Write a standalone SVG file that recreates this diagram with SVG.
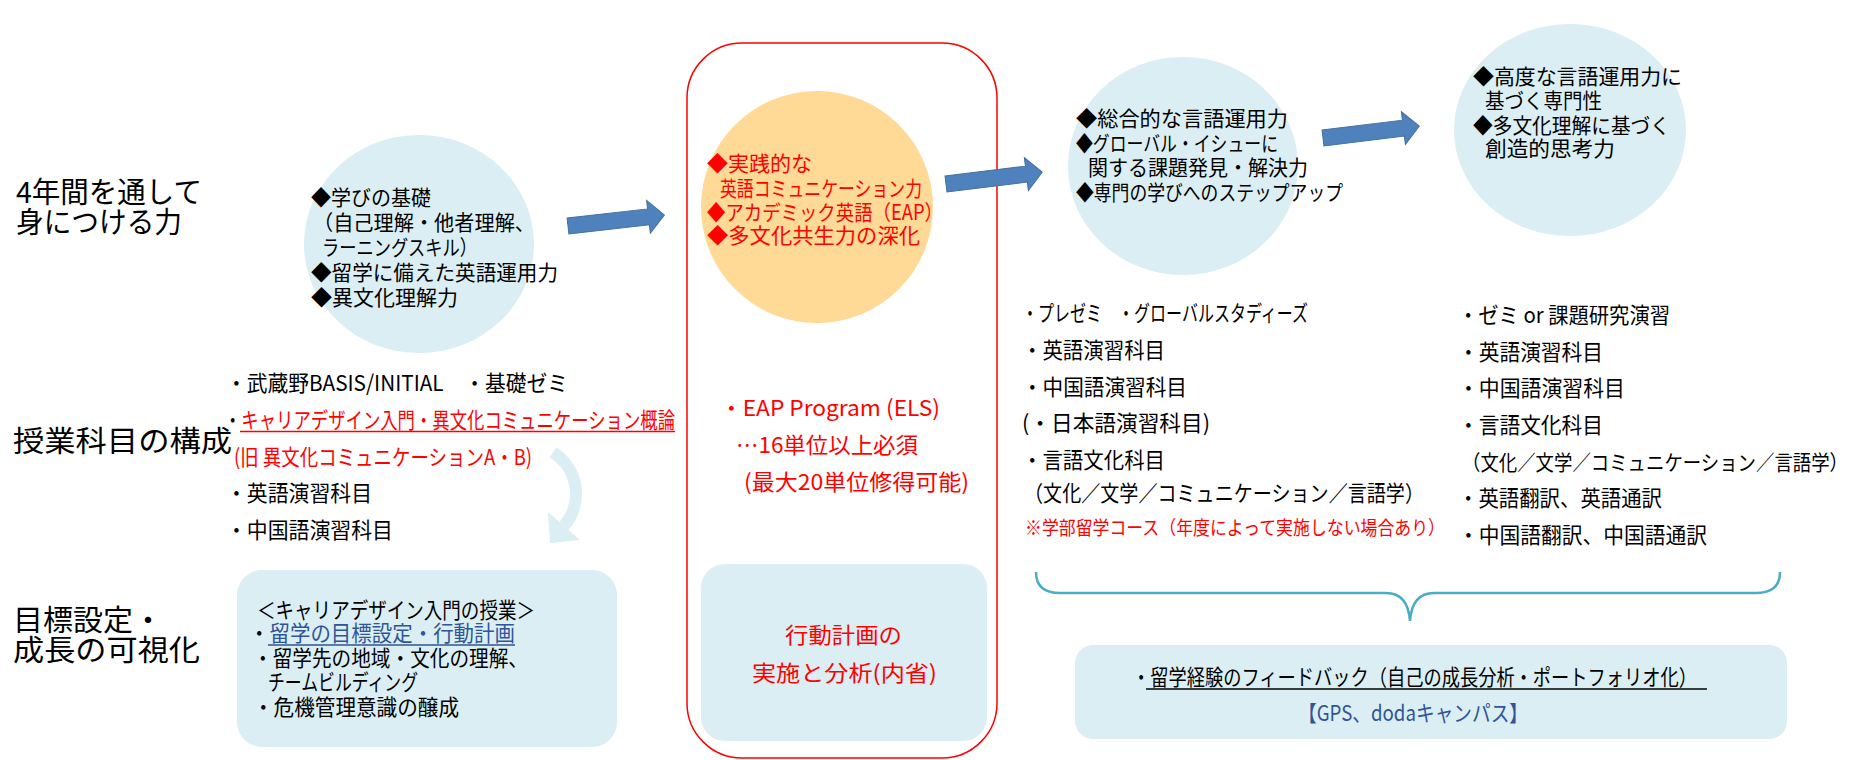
<svg xmlns="http://www.w3.org/2000/svg" width="1856" height="760" viewBox="0 0 1856 760">
<style>
text { font-family: "Noto Sans CJK JP", "Noto Sans", sans-serif; }
.k { fill:#000000; }
.r { fill:#FF0000; }
.b { fill:#2F5597; }
.lbl { font-size:29px; }
.s21 { font-size:21px; }
.s22 { font-size:22px; }
.s19 { font-size:19px; }
.lt { fill:#DAEEF3; }
.arr { fill:#4F81BD; stroke:#41719C; stroke-width:1; }
</style>
<defs>
<polygon id="bigArrow" points="0,-8 81,-8 81,-16.5 97,0 81,16.5 81,8 0,8"/>
</defs>
<rect width="1856" height="760" fill="#FFFFFF"/>

<g id="label-abilities">
<text class="k lbl" x="16" y="203" textLength="186" lengthAdjust="spacingAndGlyphs">4年間を通して</text>
<text class="k lbl" x="16" y="233" textLength="166" lengthAdjust="spacingAndGlyphs">身につける力</text>
</g>
<g id="label-courses">
<text class="k lbl" x="13" y="452" textLength="219" lengthAdjust="spacingAndGlyphs">授業科目の構成</text>
</g>
<g id="label-goals">
<text class="k lbl" x="13" y="631" textLength="150" lengthAdjust="spacingAndGlyphs">目標設定・</text>
<text class="k lbl" x="13" y="661" textLength="187" lengthAdjust="spacingAndGlyphs">成長の可視化</text>
</g>

<g id="circle-year1">
<ellipse class="lt" cx="419" cy="244" rx="115" ry="109"/>
<text class="k s21" x="311" y="205" textLength="120" lengthAdjust="spacingAndGlyphs">◆学びの基礎</text>
<text class="k s21" x="313" y="230" textLength="222" lengthAdjust="spacingAndGlyphs">（自己理解・他者理解、</text>
<text class="k s21" x="322" y="255" textLength="155" lengthAdjust="spacingAndGlyphs">ラーニングスキル）</text>
<text class="k s21" x="311" y="280" textLength="247" lengthAdjust="spacingAndGlyphs">◆留学に備えた英語運用力</text>
<text class="k s21" x="311" y="305" textLength="147" lengthAdjust="spacingAndGlyphs">◆異文化理解力</text>
</g>

<g id="circle-year2">
<circle cx="817" cy="207" r="116" fill="#FFD996"/>
<text class="r s21" x="707" y="171" textLength="105" lengthAdjust="spacingAndGlyphs">◆実践的な</text>
<text class="r s21" x="720" y="196" textLength="202" lengthAdjust="spacingAndGlyphs">英語コミュニケーション力</text>
<text class="r s21" x="707" y="220" textLength="236" lengthAdjust="spacingAndGlyphs">◆アカデミック英語（EAP）</text>
<text class="r s21" x="707" y="243" textLength="213" lengthAdjust="spacingAndGlyphs">◆多文化共生力の深化</text>
</g>

<g id="circle-year3">
<ellipse class="lt" cx="1183" cy="166" rx="115" ry="109"/>
<text class="k s21" x="1076" y="126" textLength="212" lengthAdjust="spacingAndGlyphs">◆総合的な言語運用力</text>
<text class="k s21" x="1076" y="151" textLength="202" lengthAdjust="spacingAndGlyphs">◆グローバル・イシューに</text>
<text class="k s21" x="1088" y="175" textLength="220" lengthAdjust="spacingAndGlyphs">関する課題発見・解決力</text>
<text class="k s21" x="1076" y="200" textLength="267" lengthAdjust="spacingAndGlyphs">◆専門の学びへのステップアップ</text>
</g>

<g id="circle-year4">
<ellipse class="lt" cx="1570" cy="130" rx="116" ry="106"/>
<text class="k s21" x="1473" y="84" textLength="209" lengthAdjust="spacingAndGlyphs">◆高度な言語運用力に</text>
<text class="k s21" x="1485" y="108" textLength="117" lengthAdjust="spacingAndGlyphs">基づく専門性</text>
<text class="k s21" x="1473" y="133" textLength="197" lengthAdjust="spacingAndGlyphs">◆多文化理解に基づく</text>
<text class="k s21" x="1485" y="156" textLength="130" lengthAdjust="spacingAndGlyphs">創造的思考力</text>
</g>

<g id="courses-year1">
<text class="k s22" x="226" y="391" textLength="342" lengthAdjust="spacingAndGlyphs">・武蔵野BASIS/INITIAL　・基礎ゼミ</text>
<text class="s22" x="224" y="428" textLength="451" lengthAdjust="spacingAndGlyphs"><tspan class="k">・</tspan><tspan class="r">キャリアデザイン入門・異文化コミュニケーション概論</tspan></text>
<line x1="240" y1="431.5" x2="675" y2="431.5" stroke="#FF0000" stroke-width="1.5"/>
<text class="r s22" x="234" y="465" textLength="298" lengthAdjust="spacingAndGlyphs">(旧 異文化コミュニケーションA・B)</text>
<text class="k s22" x="226" y="501" textLength="146" lengthAdjust="spacingAndGlyphs">・英語演習科目</text>
<text class="k s22" x="226" y="538" textLength="167" lengthAdjust="spacingAndGlyphs">・中国語演習科目</text>
</g>

<g id="career-box">
<rect class="lt" x="237" y="570" width="380" height="177" rx="25"/>
<text class="k s22" x="257" y="618" textLength="278" lengthAdjust="spacingAndGlyphs">＜キャリアデザイン入門の授業＞</text>
<text class="s22" x="249" y="641" textLength="266" lengthAdjust="spacingAndGlyphs"><tspan class="k">・</tspan><tspan class="b">留学の目標設定・行動計画</tspan></text>
<line x1="268" y1="645" x2="515" y2="645" stroke="#2F5597" stroke-width="1.5"/>
<text class="k s22" x="253" y="666" textLength="275" lengthAdjust="spacingAndGlyphs">・留学先の地域・文化の理解、</text>
<text class="k s22" x="268" y="690" textLength="150" lengthAdjust="spacingAndGlyphs">チームビルディング</text>
<text class="k s22" x="253" y="715" textLength="206" lengthAdjust="spacingAndGlyphs">・危機管理意識の醸成</text>
</g>

<g id="study-abroad">
<text class="r s22" x="720" y="416" textLength="220" lengthAdjust="spacingAndGlyphs">・EAP Program (ELS)</text>
<text class="r s22" x="736" y="453" textLength="182" lengthAdjust="spacingAndGlyphs">…16単位以上必須</text>
<text class="r s22" x="744" y="490" textLength="225" lengthAdjust="spacingAndGlyphs">(最大20単位修得可能)</text>
<rect class="lt" x="701" y="564" width="286" height="177" rx="24"/>
<text class="r s22" x="785" y="643" textLength="117" lengthAdjust="spacingAndGlyphs">行動計画の</text>
<text class="r s22" x="752" y="681" textLength="185" lengthAdjust="spacingAndGlyphs">実施と分析(内省)</text>
<rect x="687" y="43" width="310" height="715" rx="55" fill="none" stroke="#FF0000" stroke-width="1.5"/>
</g>

<g id="courses-year3">
<text class="k s22" x="1022" y="321" textLength="286" lengthAdjust="spacingAndGlyphs">・プレゼミ　・グローバルスタディーズ</text>
<text class="k s22" x="1022" y="358" textLength="143" lengthAdjust="spacingAndGlyphs">・英語演習科目</text>
<text class="k s22" x="1022" y="395" textLength="165" lengthAdjust="spacingAndGlyphs">・中国語演習科目</text>
<text class="k s22" x="1022" y="431" textLength="188" lengthAdjust="spacingAndGlyphs">(・日本語演習科目)</text>
<text class="k s22" x="1022" y="468" textLength="143" lengthAdjust="spacingAndGlyphs">・言語文化科目</text>
<text class="k s22" x="1024" y="501" textLength="400" lengthAdjust="spacingAndGlyphs">（文化／文学／コミュニケーション／言語学）</text>
<text class="r s19" x="1025" y="535" textLength="420" lengthAdjust="spacingAndGlyphs">※学部留学コース（年度によって実施しない場合あり）</text>
</g>

<g id="courses-year4">
<text class="k s22" x="1458" y="323" textLength="212" lengthAdjust="spacingAndGlyphs">・ゼミ or 課題研究演習</text>
<text class="k s22" x="1458" y="360" textLength="145" lengthAdjust="spacingAndGlyphs">・英語演習科目</text>
<text class="k s22" x="1458" y="396" textLength="167" lengthAdjust="spacingAndGlyphs">・中国語演習科目</text>
<text class="k s22" x="1458" y="433" textLength="145" lengthAdjust="spacingAndGlyphs">・言語文化科目</text>
<text class="k" style="font-size:21px" x="1462" y="470" textLength="386" lengthAdjust="spacingAndGlyphs">（文化／文学／コミュニケーション／言語学）</text>
<text class="k s22" x="1458" y="506" textLength="204" lengthAdjust="spacingAndGlyphs">・英語翻訳、英語通訳</text>
<text class="k s22" x="1458" y="543" textLength="249" lengthAdjust="spacingAndGlyphs">・中国語翻訳、中国語通訳</text>
</g>

<g id="feedback-box">
<rect class="lt" x="1075" y="645" width="712" height="94" rx="18"/>
<text class="k s22" x="1132" y="685" textLength="565" lengthAdjust="spacingAndGlyphs">・留学経験のフィードバック（自己の成長分析・ポートフォリオ化）</text>
<line x1="1146" y1="689" x2="1707" y2="689" stroke="#000000" stroke-width="1.5"/>
<text class="s22" fill="#2F5597" x="1298" y="721" textLength="230" lengthAdjust="spacingAndGlyphs">【GPS、dodaキャンパス】</text>
</g>

<g id="connectors">
<use href="#bigArrow" class="arr" transform="translate(568,226) rotate(-6.5)"/>
<use href="#bigArrow" class="arr" transform="translate(946,184) rotate(-7)"/>
<use href="#bigArrow" class="arr" transform="translate(1323,138) rotate(-7)"/>
<path d="M 553 452.4 A 49 49 0 0 1 564 526" fill="none" stroke="#DAEEF3" stroke-width="12"/>
<polygon points="580,540 548,512 550,543" fill="#DAEEF3"/>
<path d="M 1036 572 Q 1036 593 1060 593 L 1386 593 Q 1408 593 1410 621 Q 1412 593 1434 593 L 1756 593 Q 1780 593 1780 572" fill="none" stroke="#4BACC6" stroke-width="2.5"/>
</g>
</svg>
